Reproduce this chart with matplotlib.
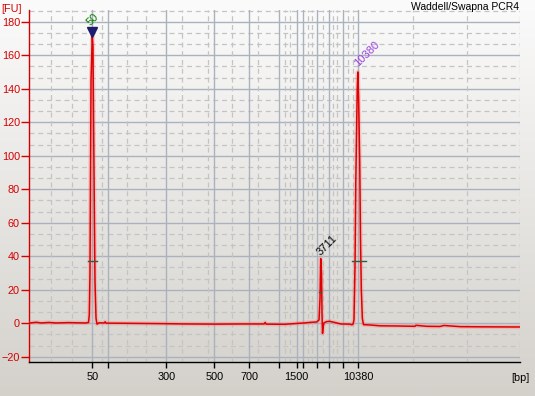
import numpy as np
import matplotlib
matplotlib.use("Agg")
import matplotlib.pyplot as plt
from matplotlib.colors import LinearSegmentedColormap

plt.rcParams['font.family'] = ['Liberation Sans', 'DejaVu Sans']

# electropherogram trace: migration time [s] and fluorescence [FU]
trace_time = [20.2, 21.5, 22.5, 24.0, 25.5, 28.0, 31.5, 32.12, 32.28, 32.42, 32.63,
              32.89, 33.03, 33.24, 33.44, 33.65, 33.85, 34.26, 35.3, 35.5, 35.7,
              40.0, 47.0, 52.0, 58.0, 63.0, 67.9, 68.1, 68.3, 72.0, 76.0, 77.5,
              78.6, 79.07, 79.27, 79.41, 79.58, 79.68, 79.78, 79.92, 80.08, 80.6,
              81.2, 82.4, 83.5, 85.3, 85.78, 85.99, 86.19, 86.40, 86.56, 86.85,
              86.97, 87.13, 87.36, 87.52, 87.68, 87.89, 88.13, 89.5, 91.5, 95.0,
              98.6, 98.8, 101.0, 103.7, 104.5, 107.8, 112.0, 120.0]
trace_fu = [0.2, 0.6, 0.2, 0.5, 0.2, 0.4, 0.2, 0.5, 5, 30, 145,
            172, 165, 90, 25, 3, -0.5, 0.3, 0.2, 0.9, 0.1,
            0.0, -0.2, -0.4, -0.5, -0.4, -0.4, 0.5, -0.5, -0.6, 0.2, 0.6,
            0.8, 2, 15, 38.6, 30, 5, -6, -2, 0.3, 1.0,
            1.2, 0.4, -0.4, -0.5, -0.9, -0.5, 2, 35, 85, 140,
            150, 135, 96, 50, 20, 3, -0.8, -1.0, -1.5, -1.6,
            -1.8, -1.2, -1.8, -1.9, -1.3, -2.0, -2.1, -2.2]

# ladder (DNA 7500) sizes and their migration times
ladder_bp = [50, 100, 300, 500, 700, 1000, 1500, 2000, 3000, 5000, 7000, 10380]
ladder_time = [32.93, 36.15, 47.96, 57.74, 64.87, 70.92, 74.52, 75.87, 78.60, 81.16, 83.89, 87.07]
shown_bp = [50, 300, 500, 700, 1500, 10380]

# minor (dashed) time grid
minor_time = [24.42, 28.66, 34.87, 40.02, 43.89, 51.22, 56.46, 61.28, 66.64, 72.14,
              73.16, 76.83, 77.58, 79.88, 81.92, 82.67, 84.97, 85.93, 98.21, 109.15, 120.0]

# called peaks
peak_time = [32.90, 79.41, 86.97]
peak_fu = [171.5, 38.6, 150]
peak_label = ['50', '3711', '10380']
peak_color = ['#007a00', '#000000', '#9a40e0']

RED = '#d40000'

fig = plt.figure(figsize=(5.35, 3.96), dpi=100)

# background gradient
bg = fig.add_axes([0, 0, 1, 1], zorder=-10)
grad = np.linspace(0, 1, 256).reshape(-1, 1)
cmap = LinearSegmentedColormap.from_list('bg', ['#fbfbfb', '#d4d1cb'])
bg.imshow(grad, aspect='auto', cmap=cmap, extent=[0, 1, 0, 1])
bg.set_axis_off()

ax = fig.add_axes([29 / 535, 1 - 362 / 396, 491 / 535, 352 / 396])
ax.patch.set_alpha(0)
ax.set_xlim(20, 120)
ax.set_ylim(-23.1, 187.0)

# grid
for v in np.arange(-20, 181, 20):
    ax.axhline(v, color='#aab2be', lw=1.0, zorder=1)
for v in np.arange(-20, 188, 20 / 3):
    if abs(v / 20 - round(v / 20)) > 0.01:
        ax.axhline(v, color='#c4c4c4', lw=0.9, ls=(0, (4, 3)), zorder=1)
for t in ladder_time:
    ax.axvline(t, color='#aab2be', lw=1.0, zorder=1)
for t in minor_time:
    ax.axvline(t, color='#c4c4c4', lw=0.9, ls=(0, (4, 3)), zorder=1)

# trace with soft glow
ax.plot(trace_time, trace_fu, color='#ff6060', lw=3.2, alpha=0.25, zorder=3)
ax.plot(trace_time, trace_fu, color='#e00000', lw=1.1, zorder=4)

# peak extent markers
ax.plot([32.1, 33.9], [37, 37], color='#2f5f3f', lw=1.0, zorder=5)
ax.plot([85.7, 88.6], [37, 37], color='#2f5f3f', lw=1.0, zorder=5)
ax.plot([79.0, 79.4], [18.5, 18.5], color='#2f5f3f', lw=1.0, zorder=5)

# lower marker triangle
ax.plot([peak_time[0]], [peak_fu[0] + 2.5], marker='v', color='#1c1c70',
        markersize=7.5, zorder=6)

offsets = [(-0.4, 6.5), (0.8, 1.2), (1.4, 2.8)]
for t, f, lab, c, off in zip(peak_time, peak_fu, peak_label, peak_color, offsets):
    ax.annotate(lab, (t, f), xytext=off, textcoords='offset points',
                rotation=45, rotation_mode='anchor', ha='left', va='bottom',
                color=c, fontsize=8, zorder=7)

# axes styling
for s in ['top', 'right']:
    ax.spines[s].set_visible(False)
ax.spines['left'].set_color(RED)
ax.spines['left'].set_linewidth(1.0)
ax.spines['bottom'].set_color('black')
ax.spines['bottom'].set_linewidth(1.0)

ax.set_yticks(np.arange(-20, 181, 20))
ax.tick_params(axis='y', colors=RED, labelcolor=RED, length=6, width=1,
               pad=0.5, labelsize=7.8)
ax.set_xticks(ladder_time)
ax.set_xticklabels([str(b) if b in shown_bp else '' for b in ladder_bp])
ax.tick_params(axis='x', colors='black', length=4.3, width=1, pad=3, labelsize=7.8)

fig.text(1 / 535, 1 - 9 / 396, '[FU]', color=RED, fontsize=7.8, ha='left', va='center')
fig.text(520 / 535, 1 - 378 / 396, '[bp]', color='black', fontsize=7.8, ha='center', va='center')
fig.text(519 / 535, 1 - 7 / 396, 'Waddell/Swapna PCR4', color='black', fontsize=7.5,
         ha='right', va='center')

fig.savefig('out.png', dpi=100)
